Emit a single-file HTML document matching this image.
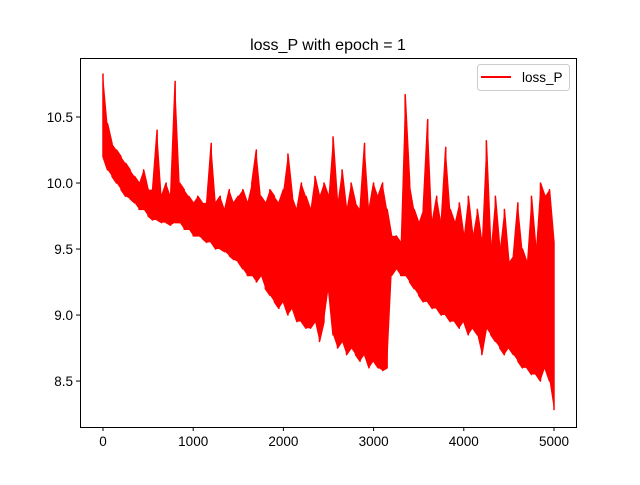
<!DOCTYPE html>
<html><head><meta charset="utf-8"><style>
body{margin:0;background:#fff;}
svg text{font-family:"Liberation Sans","DejaVu Sans",sans-serif;}
</style></head><body>
<svg id="chart" width="640" height="480" xmlns="http://www.w3.org/2000/svg">
<rect width="640" height="480" fill="#fff"/>
<text x="328" y="50" font-size="16" text-anchor="middle">loss_P with epoch = 1</text>
<g id="plot"></g>
<rect x="80.5" y="58.5" width="496" height="369" fill="none" stroke="#000" stroke-width="1"/>
<g id="ticks"></g>
<g>
<rect x="477.5" y="64.5" width="92" height="26" rx="3" fill="#fff" fill-opacity="0.8" stroke="#ccc"/>
<line x1="481" y1="77" x2="511" y2="77" stroke="red" stroke-width="2"/>
<text x="522" y="82" font-size="13.5">loss_P</text>
</g>
</svg>
<script>
const xTicks=[0,1000,2000,3000,4000,5000];
const yTicks=[8.5,9.0,9.5,10.0,10.5];
const yTickLabels=["8.5","9.0","9.5","10.0","10.5"];
const binEpochs=50;
// per-bin (50 epochs) maximum and minimum of loss_P
const lossMax=[10.83,10.45,10.3,10.25,10.2,10.15,10.1,10.05,10.0,10.1,9.95,9.95,10.4,9.9,10.0,9.9,10.77,10.0,9.95,9.9,9.85,9.9,9.85,9.85,10.3,9.85,9.9,9.8,9.95,9.85,9.9,9.95,9.85,10.0,10.25,9.9,9.85,9.95,9.9,9.85,9.95,10.22,9.9,9.8,10.0,9.9,9.8,10.05,9.9,10.0,9.9,10.35,9.85,10.1,9.8,10.0,9.85,9.8,10.3,9.8,10.0,9.9,10.0,9.8,9.6,9.6,9.55,10.67,10.0,9.8,9.7,9.8,10.48,9.7,9.9,9.7,10.27,9.8,9.7,9.85,9.6,9.9,9.6,9.8,9.55,10.32,9.5,9.9,9.5,9.8,9.4,9.45,9.85,9.5,9.4,9.9,9.5,10.0,9.9,9.95,9.55];
const lossMin=[10.2,10.1,10.05,10.0,9.95,9.9,9.88,9.85,9.8,9.8,9.75,9.72,9.72,9.7,9.7,9.68,9.7,9.7,9.65,9.65,9.6,9.6,9.58,9.55,9.55,9.5,9.5,9.48,9.45,9.42,9.4,9.35,9.3,9.3,9.25,9.3,9.2,9.15,9.1,9.05,9.1,9.0,9.05,8.95,8.95,8.9,8.9,8.95,8.8,8.95,9.2,8.85,8.75,8.8,8.7,8.75,8.7,8.65,8.7,8.6,8.65,8.6,8.58,8.6,9.3,9.35,9.3,9.3,9.25,9.2,9.15,9.1,9.1,9.05,9.05,9.0,9.0,8.95,8.95,8.9,8.95,8.85,8.9,8.85,8.7,8.9,8.85,8.8,8.75,8.7,8.75,8.7,8.65,8.6,8.6,8.55,8.55,8.5,8.6,8.5,8.28];
const X0=80,X1=576,Y0=58,Y1=427;
const xMin=-255,xMax=5244,yMin=8.152,yMax=10.947;
function sx(v){return X0+(v-xMin)/(xMax-xMin)*(X1-X0);}
function sy(v){return Y1-(v-yMin)/(yMax-yMin)*(Y1-Y0);}
const NS="http://www.w3.org/2000/svg";
const plot=document.getElementById('plot');
let d="";
lossMax.forEach((v,i)=>{
 const x=sx(Math.min(i*binEpochs,5000)).toFixed(2);
 if(i%2===0){d+=(i?"L":"M")+x+" "+sy(v).toFixed(2)+"L"+x+" "+sy(lossMin[i]).toFixed(2);}
 else{d+="L"+x+" "+sy(lossMin[i]).toFixed(2)+"L"+x+" "+sy(v).toFixed(2);}
});
const path=document.createElementNS(NS,'path');


path.setAttribute('d',d);path.setAttribute('fill','none');path.setAttribute('stroke','red');path.setAttribute('stroke-width','1.5');path.setAttribute('stroke-linejoin','round');
plot.appendChild(path);
let b="";
lossMax.forEach((v,i)=>{b+=(i?"L":"M")+sx(Math.min(i*binEpochs,5000)).toFixed(2)+" "+sy(v).toFixed(2);});
for(let i=lossMin.length-1;i>=0;i--){b+="L"+sx(Math.min(i*binEpochs,5000)).toFixed(2)+" "+sy(lossMin[i]).toFixed(2);}
const band=document.createElementNS(NS,'path');


band.setAttribute('d',b+"Z");band.setAttribute('fill','red');band.setAttribute('stroke','none');
plot.appendChild(band);
const tg=document.getElementById('ticks');
xTicks.forEach(t=>{
 const x=sx(t);
 const l=document.createElementNS(NS,'line');
 
 
 l.setAttribute('x1',x);l.setAttribute('x2',x);l.setAttribute('y1',427);l.setAttribute('y2',431);l.setAttribute('stroke','#000');
 tg.appendChild(l);
 const tx=document.createElementNS(NS,'text');
 
 
 tx.setAttribute('x',x);tx.setAttribute('y',446);tx.setAttribute('font-size','13.5');tx.setAttribute('text-anchor','middle');
 tx.textContent=String(t);tg.appendChild(tx);
});
yTicks.forEach((t,i)=>{
 const y=sy(t);
 const l=document.createElementNS(NS,'line');
 
 
 l.setAttribute('x1',76);l.setAttribute('x2',80);l.setAttribute('y1',y);l.setAttribute('y2',y);l.setAttribute('stroke','#000');
 tg.appendChild(l);
 const tx=document.createElementNS(NS,'text');
 
 
 tx.setAttribute('x',73);tx.setAttribute('y',y+5);tx.setAttribute('font-size','13.5');tx.setAttribute('text-anchor','end');
 tx.textContent=yTickLabels[i];tg.appendChild(tx);
});
</script>
</body></html>
